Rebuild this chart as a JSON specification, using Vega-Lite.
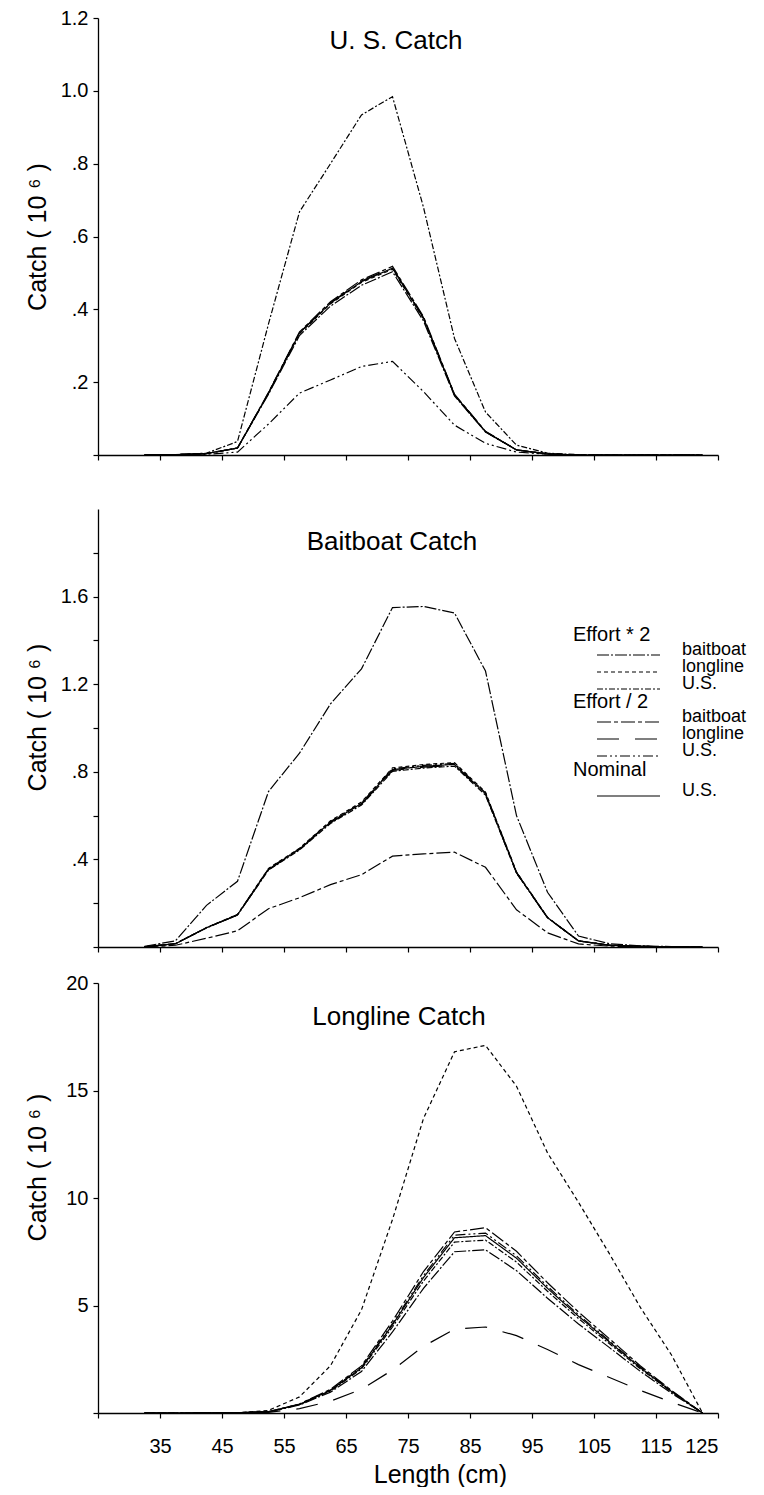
{
"$schema":"https://vega.github.io/schema/vega-lite/v6.json",
"background":"white",
"padding":{"left":25,"top":8,"right":5,"bottom":0},
"config":{
 "font":"Liberation Sans",
 "view":{"stroke":null},
 "axis":{"domainColor":"black","domainWidth":1.3,"tickColor":"black","tickWidth":1.2,"tickSize":5,"labelColor":"black","labelFont":"Liberation Sans","titleFont":"Liberation Sans","titleColor":"black","titleFontWeight":"normal","grid":false,"labelFontSize":20,"titleFontSize":25},
 "title":{"font":"Liberation Sans","fontSize":26,"fontWeight":"normal","color":"black","anchor":"middle","frame":"group","baseline":"top"},
 "legend":{"orient":"none","labelFont":"Liberation Sans","labelFontSize":18,"labelColor":"black","labelBaseline":"alphabetic","titleFont":"Liberation Sans","titleFontSize":20,"titleFontWeight":"normal","titleColor":"black","symbolType":"M-4.5,0H4.5","symbolSize":196,"symbolStrokeColor":"black","symbolStrokeWidth":1.2,"symbolOffset":46.5,"labelOffset":44.5,"rowPadding":-1,"titlePadding":6,"padding":0},
 "line":{"color":"black","strokeWidth":1.2}
},
"datasets":{
"us":[
{"effort":"double","fleet":"baitboat","len":32.5,"catch":0},{"effort":"double","fleet":"baitboat","len":37.5,"catch":0.001},{"effort":"double","fleet":"baitboat","len":42.5,"catch":0.004},{"effort":"double","fleet":"baitboat","len":47.5,"catch":0.019},{"effort":"double","fleet":"baitboat","len":52.5,"catch":0.167},{"effort":"double","fleet":"baitboat","len":57.5,"catch":0.328},{"effort":"double","fleet":"baitboat","len":62.5,"catch":0.409},{"effort":"double","fleet":"baitboat","len":67.5,"catch":0.466},{"effort":"double","fleet":"baitboat","len":72.5,"catch":0.503},{"effort":"double","fleet":"baitboat","len":77.5,"catch":0.368},{"effort":"double","fleet":"baitboat","len":82.5,"catch":0.162},{"effort":"double","fleet":"baitboat","len":87.5,"catch":0.063},{"effort":"double","fleet":"baitboat","len":92.5,"catch":0.014},{"effort":"double","fleet":"baitboat","len":97.5,"catch":0.003},{"effort":"double","fleet":"baitboat","len":102.5,"catch":0},{"effort":"double","fleet":"baitboat","len":107.5,"catch":0},{"effort":"double","fleet":"baitboat","len":112.5,"catch":0},{"effort":"double","fleet":"baitboat","len":117.5,"catch":0},{"effort":"double","fleet":"baitboat","len":122.5,"catch":0},
{"effort":"double","fleet":"longline","len":32.5,"catch":0},{"effort":"double","fleet":"longline","len":37.5,"catch":0.001},{"effort":"double","fleet":"longline","len":42.5,"catch":0.004},{"effort":"double","fleet":"longline","len":47.5,"catch":0.019},{"effort":"double","fleet":"longline","len":52.5,"catch":0.169},{"effort":"double","fleet":"longline","len":57.5,"catch":0.333},{"effort":"double","fleet":"longline","len":62.5,"catch":0.415},{"effort":"double","fleet":"longline","len":67.5,"catch":0.474},{"effort":"double","fleet":"longline","len":72.5,"catch":0.51},{"effort":"double","fleet":"longline","len":77.5,"catch":0.374},{"effort":"double","fleet":"longline","len":82.5,"catch":0.164},{"effort":"double","fleet":"longline","len":87.5,"catch":0.064},{"effort":"double","fleet":"longline","len":92.5,"catch":0.014},{"effort":"double","fleet":"longline","len":97.5,"catch":0.003},{"effort":"double","fleet":"longline","len":102.5,"catch":0},{"effort":"double","fleet":"longline","len":107.5,"catch":0},{"effort":"double","fleet":"longline","len":112.5,"catch":0},{"effort":"double","fleet":"longline","len":117.5,"catch":0},{"effort":"double","fleet":"longline","len":122.5,"catch":0},
{"effort":"double","fleet":"U.S.","len":32.5,"catch":0},{"effort":"double","fleet":"U.S.","len":37.5,"catch":0.001},{"effort":"double","fleet":"U.S.","len":42.5,"catch":0.005},{"effort":"double","fleet":"U.S.","len":47.5,"catch":0.037},{"effort":"double","fleet":"U.S.","len":52.5,"catch":0.36},{"effort":"double","fleet":"U.S.","len":57.5,"catch":0.668},{"effort":"double","fleet":"U.S.","len":62.5,"catch":0.8},{"effort":"double","fleet":"U.S.","len":67.5,"catch":0.934},{"effort":"double","fleet":"U.S.","len":72.5,"catch":0.984},{"effort":"double","fleet":"U.S.","len":77.5,"catch":0.68},{"effort":"double","fleet":"U.S.","len":82.5,"catch":0.32},{"effort":"double","fleet":"U.S.","len":87.5,"catch":0.118},{"effort":"double","fleet":"U.S.","len":92.5,"catch":0.027},{"effort":"double","fleet":"U.S.","len":97.5,"catch":0.005},{"effort":"double","fleet":"U.S.","len":102.5,"catch":0.001},{"effort":"double","fleet":"U.S.","len":107.5,"catch":0},{"effort":"double","fleet":"U.S.","len":112.5,"catch":0},{"effort":"double","fleet":"U.S.","len":117.5,"catch":0},{"effort":"double","fleet":"U.S.","len":122.5,"catch":0},
{"effort":"half","fleet":"baitboat","len":32.5,"catch":0},{"effort":"half","fleet":"baitboat","len":37.5,"catch":0.001},{"effort":"half","fleet":"baitboat","len":42.5,"catch":0.004},{"effort":"half","fleet":"baitboat","len":47.5,"catch":0.019},{"effort":"half","fleet":"baitboat","len":52.5,"catch":0.172},{"effort":"half","fleet":"baitboat","len":57.5,"catch":0.338},{"effort":"half","fleet":"baitboat","len":62.5,"catch":0.421},{"effort":"half","fleet":"baitboat","len":67.5,"catch":0.481},{"effort":"half","fleet":"baitboat","len":72.5,"catch":0.518},{"effort":"half","fleet":"baitboat","len":77.5,"catch":0.38},{"effort":"half","fleet":"baitboat","len":82.5,"catch":0.167},{"effort":"half","fleet":"baitboat","len":87.5,"catch":0.065},{"effort":"half","fleet":"baitboat","len":92.5,"catch":0.014},{"effort":"half","fleet":"baitboat","len":97.5,"catch":0.003},{"effort":"half","fleet":"baitboat","len":102.5,"catch":0},{"effort":"half","fleet":"baitboat","len":107.5,"catch":0},{"effort":"half","fleet":"baitboat","len":112.5,"catch":0},{"effort":"half","fleet":"baitboat","len":117.5,"catch":0},{"effort":"half","fleet":"baitboat","len":122.5,"catch":0},
{"effort":"half","fleet":"longline","len":32.5,"catch":0},{"effort":"half","fleet":"longline","len":37.5,"catch":0.001},{"effort":"half","fleet":"longline","len":42.5,"catch":0.004},{"effort":"half","fleet":"longline","len":47.5,"catch":0.019},{"effort":"half","fleet":"longline","len":52.5,"catch":0.171},{"effort":"half","fleet":"longline","len":57.5,"catch":0.336},{"effort":"half","fleet":"longline","len":62.5,"catch":0.418},{"effort":"half","fleet":"longline","len":67.5,"catch":0.478},{"effort":"half","fleet":"longline","len":72.5,"catch":0.515},{"effort":"half","fleet":"longline","len":77.5,"catch":0.377},{"effort":"half","fleet":"longline","len":82.5,"catch":0.166},{"effort":"half","fleet":"longline","len":87.5,"catch":0.064},{"effort":"half","fleet":"longline","len":92.5,"catch":0.014},{"effort":"half","fleet":"longline","len":97.5,"catch":0.003},{"effort":"half","fleet":"longline","len":102.5,"catch":0},{"effort":"half","fleet":"longline","len":107.5,"catch":0},{"effort":"half","fleet":"longline","len":112.5,"catch":0},{"effort":"half","fleet":"longline","len":117.5,"catch":0},{"effort":"half","fleet":"longline","len":122.5,"catch":0},
{"effort":"half","fleet":"U.S.","len":32.5,"catch":0},{"effort":"half","fleet":"U.S.","len":37.5,"catch":0},{"effort":"half","fleet":"U.S.","len":42.5,"catch":0.002},{"effort":"half","fleet":"U.S.","len":47.5,"catch":0.008},{"effort":"half","fleet":"U.S.","len":52.5,"catch":0.085},{"effort":"half","fleet":"U.S.","len":57.5,"catch":0.17},{"effort":"half","fleet":"U.S.","len":62.5,"catch":0.206},{"effort":"half","fleet":"U.S.","len":67.5,"catch":0.243},{"effort":"half","fleet":"U.S.","len":72.5,"catch":0.257},{"effort":"half","fleet":"U.S.","len":77.5,"catch":0.174},{"effort":"half","fleet":"U.S.","len":82.5,"catch":0.082},{"effort":"half","fleet":"U.S.","len":87.5,"catch":0.032},{"effort":"half","fleet":"U.S.","len":92.5,"catch":0.008},{"effort":"half","fleet":"U.S.","len":97.5,"catch":0.002},{"effort":"half","fleet":"U.S.","len":102.5,"catch":0},{"effort":"half","fleet":"U.S.","len":107.5,"catch":0},{"effort":"half","fleet":"U.S.","len":112.5,"catch":0},{"effort":"half","fleet":"U.S.","len":117.5,"catch":0},{"effort":"half","fleet":"U.S.","len":122.5,"catch":0},
{"effort":"nominal","fleet":"U.S.","len":32.5,"catch":0},{"effort":"nominal","fleet":"U.S.","len":37.5,"catch":0.001},{"effort":"nominal","fleet":"U.S.","len":42.5,"catch":0.004},{"effort":"nominal","fleet":"U.S.","len":47.5,"catch":0.019},{"effort":"nominal","fleet":"U.S.","len":52.5,"catch":0.17},{"effort":"nominal","fleet":"U.S.","len":57.5,"catch":0.335},{"effort":"nominal","fleet":"U.S.","len":62.5,"catch":0.417},{"effort":"nominal","fleet":"U.S.","len":67.5,"catch":0.476},{"effort":"nominal","fleet":"U.S.","len":72.5,"catch":0.513},{"effort":"nominal","fleet":"U.S.","len":77.5,"catch":0.376},{"effort":"nominal","fleet":"U.S.","len":82.5,"catch":0.165},{"effort":"nominal","fleet":"U.S.","len":87.5,"catch":0.064},{"effort":"nominal","fleet":"U.S.","len":92.5,"catch":0.014},{"effort":"nominal","fleet":"U.S.","len":97.5,"catch":0.003},{"effort":"nominal","fleet":"U.S.","len":102.5,"catch":0},{"effort":"nominal","fleet":"U.S.","len":107.5,"catch":0},{"effort":"nominal","fleet":"U.S.","len":112.5,"catch":0},{"effort":"nominal","fleet":"U.S.","len":117.5,"catch":0},{"effort":"nominal","fleet":"U.S.","len":122.5,"catch":0}
],
"bb":[
{"effort":"double","fleet":"baitboat","len":32.5,"catch":0.003},{"effort":"double","fleet":"baitboat","len":37.5,"catch":0.028},{"effort":"double","fleet":"baitboat","len":42.5,"catch":0.19},{"effort":"double","fleet":"baitboat","len":47.5,"catch":0.3},{"effort":"double","fleet":"baitboat","len":52.5,"catch":0.71},{"effort":"double","fleet":"baitboat","len":57.5,"catch":0.885},{"effort":"double","fleet":"baitboat","len":62.5,"catch":1.11},{"effort":"double","fleet":"baitboat","len":67.5,"catch":1.27},{"effort":"double","fleet":"baitboat","len":72.5,"catch":1.55},{"effort":"double","fleet":"baitboat","len":77.5,"catch":1.555},{"effort":"double","fleet":"baitboat","len":82.5,"catch":1.525},{"effort":"double","fleet":"baitboat","len":87.5,"catch":1.26},{"effort":"double","fleet":"baitboat","len":92.5,"catch":0.6},{"effort":"double","fleet":"baitboat","len":97.5,"catch":0.25},{"effort":"double","fleet":"baitboat","len":102.5,"catch":0.05},{"effort":"double","fleet":"baitboat","len":107.5,"catch":0.015},{"effort":"double","fleet":"baitboat","len":112.5,"catch":0.005},{"effort":"double","fleet":"baitboat","len":117.5,"catch":0.002},{"effort":"double","fleet":"baitboat","len":122.5,"catch":0},
{"effort":"double","fleet":"longline","len":32.5,"catch":0.001},{"effort":"double","fleet":"longline","len":37.5,"catch":0.015},{"effort":"double","fleet":"longline","len":42.5,"catch":0.089},{"effort":"double","fleet":"longline","len":47.5,"catch":0.148},{"effort":"double","fleet":"longline","len":52.5,"catch":0.359},{"effort":"double","fleet":"longline","len":57.5,"catch":0.451},{"effort":"double","fleet":"longline","len":62.5,"catch":0.576},{"effort":"double","fleet":"longline","len":67.5,"catch":0.662},{"effort":"double","fleet":"longline","len":72.5,"catch":0.818},{"effort":"double","fleet":"longline","len":77.5,"catch":0.833},{"effort":"double","fleet":"longline","len":82.5,"catch":0.842},{"effort":"double","fleet":"longline","len":87.5,"catch":0.707},{"effort":"double","fleet":"longline","len":92.5,"catch":0.343},{"effort":"double","fleet":"longline","len":97.5,"catch":0.135},{"effort":"double","fleet":"longline","len":102.5,"catch":0.028},{"effort":"double","fleet":"longline","len":107.5,"catch":0.008},{"effort":"double","fleet":"longline","len":112.5,"catch":0.003},{"effort":"double","fleet":"longline","len":117.5,"catch":0.001},{"effort":"double","fleet":"longline","len":122.5,"catch":0},
{"effort":"double","fleet":"U.S.","len":32.5,"catch":0.001},{"effort":"double","fleet":"U.S.","len":37.5,"catch":0.015},{"effort":"double","fleet":"U.S.","len":42.5,"catch":0.087},{"effort":"double","fleet":"U.S.","len":47.5,"catch":0.146},{"effort":"double","fleet":"U.S.","len":52.5,"catch":0.351},{"effort":"double","fleet":"U.S.","len":57.5,"catch":0.443},{"effort":"double","fleet":"U.S.","len":62.5,"catch":0.564},{"effort":"double","fleet":"U.S.","len":67.5,"catch":0.648},{"effort":"double","fleet":"U.S.","len":72.5,"catch":0.802},{"effort":"double","fleet":"U.S.","len":77.5,"catch":0.817},{"effort":"double","fleet":"U.S.","len":82.5,"catch":0.826},{"effort":"double","fleet":"U.S.","len":87.5,"catch":0.693},{"effort":"double","fleet":"U.S.","len":92.5,"catch":0.337},{"effort":"double","fleet":"U.S.","len":97.5,"catch":0.133},{"effort":"double","fleet":"U.S.","len":102.5,"catch":0.028},{"effort":"double","fleet":"U.S.","len":107.5,"catch":0.008},{"effort":"double","fleet":"U.S.","len":112.5,"catch":0.003},{"effort":"double","fleet":"U.S.","len":117.5,"catch":0.001},{"effort":"double","fleet":"U.S.","len":122.5,"catch":0},
{"effort":"half","fleet":"baitboat","len":32.5,"catch":0},{"effort":"half","fleet":"baitboat","len":37.5,"catch":0.008},{"effort":"half","fleet":"baitboat","len":42.5,"catch":0.04},{"effort":"half","fleet":"baitboat","len":47.5,"catch":0.074},{"effort":"half","fleet":"baitboat","len":52.5,"catch":0.175},{"effort":"half","fleet":"baitboat","len":57.5,"catch":0.225},{"effort":"half","fleet":"baitboat","len":62.5,"catch":0.285},{"effort":"half","fleet":"baitboat","len":67.5,"catch":0.33},{"effort":"half","fleet":"baitboat","len":72.5,"catch":0.415},{"effort":"half","fleet":"baitboat","len":77.5,"catch":0.425},{"effort":"half","fleet":"baitboat","len":82.5,"catch":0.433},{"effort":"half","fleet":"baitboat","len":87.5,"catch":0.364},{"effort":"half","fleet":"baitboat","len":92.5,"catch":0.17},{"effort":"half","fleet":"baitboat","len":97.5,"catch":0.065},{"effort":"half","fleet":"baitboat","len":102.5,"catch":0.014},{"effort":"half","fleet":"baitboat","len":107.5,"catch":0.004},{"effort":"half","fleet":"baitboat","len":112.5,"catch":0.001},{"effort":"half","fleet":"baitboat","len":117.5,"catch":0},{"effort":"half","fleet":"baitboat","len":122.5,"catch":0},
{"effort":"half","fleet":"longline","len":32.5,"catch":0.001},{"effort":"half","fleet":"longline","len":37.5,"catch":0.015},{"effort":"half","fleet":"longline","len":42.5,"catch":0.088},{"effort":"half","fleet":"longline","len":47.5,"catch":0.146},{"effort":"half","fleet":"longline","len":52.5,"catch":0.353},{"effort":"half","fleet":"longline","len":57.5,"catch":0.445},{"effort":"half","fleet":"longline","len":62.5,"catch":0.567},{"effort":"half","fleet":"longline","len":67.5,"catch":0.652},{"effort":"half","fleet":"longline","len":72.5,"catch":0.806},{"effort":"half","fleet":"longline","len":77.5,"catch":0.821},{"effort":"half","fleet":"longline","len":82.5,"catch":0.83},{"effort":"half","fleet":"longline","len":87.5,"catch":0.697},{"effort":"half","fleet":"longline","len":92.5,"catch":0.338},{"effort":"half","fleet":"longline","len":97.5,"catch":0.133},{"effort":"half","fleet":"longline","len":102.5,"catch":0.028},{"effort":"half","fleet":"longline","len":107.5,"catch":0.008},{"effort":"half","fleet":"longline","len":112.5,"catch":0.003},{"effort":"half","fleet":"longline","len":117.5,"catch":0.001},{"effort":"half","fleet":"longline","len":122.5,"catch":0},
{"effort":"half","fleet":"U.S.","len":32.5,"catch":0.001},{"effort":"half","fleet":"U.S.","len":37.5,"catch":0.015},{"effort":"half","fleet":"U.S.","len":42.5,"catch":0.088},{"effort":"half","fleet":"U.S.","len":47.5,"catch":0.148},{"effort":"half","fleet":"U.S.","len":52.5,"catch":0.357},{"effort":"half","fleet":"U.S.","len":57.5,"catch":0.449},{"effort":"half","fleet":"U.S.","len":62.5,"catch":0.573},{"effort":"half","fleet":"U.S.","len":67.5,"catch":0.658},{"effort":"half","fleet":"U.S.","len":72.5,"catch":0.814},{"effort":"half","fleet":"U.S.","len":77.5,"catch":0.829},{"effort":"half","fleet":"U.S.","len":82.5,"catch":0.838},{"effort":"half","fleet":"U.S.","len":87.5,"catch":0.704},{"effort":"half","fleet":"U.S.","len":92.5,"catch":0.342},{"effort":"half","fleet":"U.S.","len":97.5,"catch":0.135},{"effort":"half","fleet":"U.S.","len":102.5,"catch":0.028},{"effort":"half","fleet":"U.S.","len":107.5,"catch":0.008},{"effort":"half","fleet":"U.S.","len":112.5,"catch":0.003},{"effort":"half","fleet":"U.S.","len":117.5,"catch":0.001},{"effort":"half","fleet":"U.S.","len":122.5,"catch":0},
{"effort":"nominal","fleet":"U.S.","len":32.5,"catch":0.001},{"effort":"nominal","fleet":"U.S.","len":37.5,"catch":0.015},{"effort":"nominal","fleet":"U.S.","len":42.5,"catch":0.088},{"effort":"nominal","fleet":"U.S.","len":47.5,"catch":0.147},{"effort":"nominal","fleet":"U.S.","len":52.5,"catch":0.355},{"effort":"nominal","fleet":"U.S.","len":57.5,"catch":0.447},{"effort":"nominal","fleet":"U.S.","len":62.5,"catch":0.57},{"effort":"nominal","fleet":"U.S.","len":67.5,"catch":0.655},{"effort":"nominal","fleet":"U.S.","len":72.5,"catch":0.81},{"effort":"nominal","fleet":"U.S.","len":77.5,"catch":0.825},{"effort":"nominal","fleet":"U.S.","len":82.5,"catch":0.834},{"effort":"nominal","fleet":"U.S.","len":87.5,"catch":0.7},{"effort":"nominal","fleet":"U.S.","len":92.5,"catch":0.34},{"effort":"nominal","fleet":"U.S.","len":97.5,"catch":0.134},{"effort":"nominal","fleet":"U.S.","len":102.5,"catch":0.028},{"effort":"nominal","fleet":"U.S.","len":107.5,"catch":0.008},{"effort":"nominal","fleet":"U.S.","len":112.5,"catch":0.003},{"effort":"nominal","fleet":"U.S.","len":117.5,"catch":0.001},{"effort":"nominal","fleet":"U.S.","len":122.5,"catch":0}
],
"ll":[
{"effort":"double","fleet":"baitboat","len":32.5,"catch":0},{"effort":"double","fleet":"baitboat","len":37.5,"catch":0},{"effort":"double","fleet":"baitboat","len":42.5,"catch":0.002},{"effort":"double","fleet":"baitboat","len":47.5,"catch":0.009},{"effort":"double","fleet":"baitboat","len":52.5,"catch":0.055},{"effort":"double","fleet":"baitboat","len":57.5,"catch":0.37},{"effort":"double","fleet":"baitboat","len":62.5,"catch":0.97},{"effort":"double","fleet":"baitboat","len":67.5,"catch":1.93},{"effort":"double","fleet":"baitboat","len":72.5,"catch":3.77},{"effort":"double","fleet":"baitboat","len":77.5,"catch":5.8},{"effort":"double","fleet":"baitboat","len":82.5,"catch":7.5},{"effort":"double","fleet":"baitboat","len":87.5,"catch":7.59},{"effort":"double","fleet":"baitboat","len":92.5,"catch":6.62},{"effort":"double","fleet":"baitboat","len":97.5,"catch":5.34},{"effort":"double","fleet":"baitboat","len":102.5,"catch":4.14},{"effort":"double","fleet":"baitboat","len":107.5,"catch":3.04},{"effort":"double","fleet":"baitboat","len":112.5,"catch":1.93},{"effort":"double","fleet":"baitboat","len":117.5,"catch":0.92},{"effort":"double","fleet":"baitboat","len":122.5,"catch":0},
{"effort":"double","fleet":"longline","len":32.5,"catch":0},{"effort":"double","fleet":"longline","len":37.5,"catch":0},{"effort":"double","fleet":"longline","len":42.5,"catch":0.002},{"effort":"double","fleet":"longline","len":47.5,"catch":0.01},{"effort":"double","fleet":"longline","len":52.5,"catch":0.12},{"effort":"double","fleet":"longline","len":57.5,"catch":0.75},{"effort":"double","fleet":"longline","len":62.5,"catch":2.2},{"effort":"double","fleet":"longline","len":67.5,"catch":4.8},{"effort":"double","fleet":"longline","len":72.5,"catch":9.0},{"effort":"double","fleet":"longline","len":77.5,"catch":13.7},{"effort":"double","fleet":"longline","len":82.5,"catch":16.8},{"effort":"double","fleet":"longline","len":87.5,"catch":17.1},{"effort":"double","fleet":"longline","len":92.5,"catch":15.2},{"effort":"double","fleet":"longline","len":97.5,"catch":12.1},{"effort":"double","fleet":"longline","len":102.5,"catch":9.8},{"effort":"double","fleet":"longline","len":107.5,"catch":7.4},{"effort":"double","fleet":"longline","len":112.5,"catch":4.9},{"effort":"double","fleet":"longline","len":117.5,"catch":2.7},{"effort":"double","fleet":"longline","len":122.5,"catch":0},
{"effort":"double","fleet":"U.S.","len":32.5,"catch":0},{"effort":"double","fleet":"U.S.","len":37.5,"catch":0},{"effort":"double","fleet":"U.S.","len":42.5,"catch":0.002},{"effort":"double","fleet":"U.S.","len":47.5,"catch":0.01},{"effort":"double","fleet":"U.S.","len":52.5,"catch":0.058},{"effort":"double","fleet":"U.S.","len":57.5,"catch":0.39},{"effort":"double","fleet":"U.S.","len":62.5,"catch":1.02},{"effort":"double","fleet":"U.S.","len":67.5,"catch":2.05},{"effort":"double","fleet":"U.S.","len":72.5,"catch":4.0},{"effort":"double","fleet":"U.S.","len":77.5,"catch":6.14},{"effort":"double","fleet":"U.S.","len":82.5,"catch":7.95},{"effort":"double","fleet":"U.S.","len":87.5,"catch":8.04},{"effort":"double","fleet":"U.S.","len":92.5,"catch":7.02},{"effort":"double","fleet":"U.S.","len":97.5,"catch":5.66},{"effort":"double","fleet":"U.S.","len":102.5,"catch":4.39},{"effort":"double","fleet":"U.S.","len":107.5,"catch":3.22},{"effort":"double","fleet":"U.S.","len":112.5,"catch":2.05},{"effort":"double","fleet":"U.S.","len":117.5,"catch":0.98},{"effort":"double","fleet":"U.S.","len":122.5,"catch":0},
{"effort":"half","fleet":"baitboat","len":32.5,"catch":0},{"effort":"half","fleet":"baitboat","len":37.5,"catch":0},{"effort":"half","fleet":"baitboat","len":42.5,"catch":0.002},{"effort":"half","fleet":"baitboat","len":47.5,"catch":0.01},{"effort":"half","fleet":"baitboat","len":52.5,"catch":0.063},{"effort":"half","fleet":"baitboat","len":57.5,"catch":0.42},{"effort":"half","fleet":"baitboat","len":62.5,"catch":1.1},{"effort":"half","fleet":"baitboat","len":67.5,"catch":2.19},{"effort":"half","fleet":"baitboat","len":72.5,"catch":4.28},{"effort":"half","fleet":"baitboat","len":77.5,"catch":6.58},{"effort":"half","fleet":"baitboat","len":82.5,"catch":8.42},{"effort":"half","fleet":"baitboat","len":87.5,"catch":8.62},{"effort":"half","fleet":"baitboat","len":92.5,"catch":7.52},{"effort":"half","fleet":"baitboat","len":97.5,"catch":6.06},{"effort":"half","fleet":"baitboat","len":102.5,"catch":4.7},{"effort":"half","fleet":"baitboat","len":107.5,"catch":3.45},{"effort":"half","fleet":"baitboat","len":112.5,"catch":2.19},{"effort":"half","fleet":"baitboat","len":117.5,"catch":1.05},{"effort":"half","fleet":"baitboat","len":122.5,"catch":0},
{"effort":"half","fleet":"longline","len":32.5,"catch":0},{"effort":"half","fleet":"longline","len":37.5,"catch":0},{"effort":"half","fleet":"longline","len":42.5,"catch":0},{"effort":"half","fleet":"longline","len":47.5,"catch":0.005},{"effort":"half","fleet":"longline","len":52.5,"catch":0.03},{"effort":"half","fleet":"longline","len":57.5,"catch":0.2},{"effort":"half","fleet":"longline","len":62.5,"catch":0.55},{"effort":"half","fleet":"longline","len":67.5,"catch":1.1},{"effort":"half","fleet":"longline","len":72.5,"catch":2.0},{"effort":"half","fleet":"longline","len":77.5,"catch":3.1},{"effort":"half","fleet":"longline","len":82.5,"catch":3.9},{"effort":"half","fleet":"longline","len":87.5,"catch":4.0},{"effort":"half","fleet":"longline","len":92.5,"catch":3.6},{"effort":"half","fleet":"longline","len":97.5,"catch":2.95},{"effort":"half","fleet":"longline","len":102.5,"catch":2.25},{"effort":"half","fleet":"longline","len":107.5,"catch":1.65},{"effort":"half","fleet":"longline","len":112.5,"catch":1.05},{"effort":"half","fleet":"longline","len":117.5,"catch":0.5},{"effort":"half","fleet":"longline","len":122.5,"catch":0},
{"effort":"half","fleet":"U.S.","len":32.5,"catch":0},{"effort":"half","fleet":"U.S.","len":37.5,"catch":0},{"effort":"half","fleet":"U.S.","len":42.5,"catch":0.002},{"effort":"half","fleet":"U.S.","len":47.5,"catch":0.01},{"effort":"half","fleet":"U.S.","len":52.5,"catch":0.061},{"effort":"half","fleet":"U.S.","len":57.5,"catch":0.41},{"effort":"half","fleet":"U.S.","len":62.5,"catch":1.07},{"effort":"half","fleet":"U.S.","len":67.5,"catch":2.13},{"effort":"half","fleet":"U.S.","len":72.5,"catch":4.16},{"effort":"half","fleet":"U.S.","len":77.5,"catch":6.39},{"effort":"half","fleet":"U.S.","len":82.5,"catch":8.27},{"effort":"half","fleet":"U.S.","len":87.5,"catch":8.37},{"effort":"half","fleet":"U.S.","len":92.5,"catch":7.31},{"effort":"half","fleet":"U.S.","len":97.5,"catch":5.89},{"effort":"half","fleet":"U.S.","len":102.5,"catch":4.57},{"effort":"half","fleet":"U.S.","len":107.5,"catch":3.35},{"effort":"half","fleet":"U.S.","len":112.5,"catch":2.13},{"effort":"half","fleet":"U.S.","len":117.5,"catch":1.02},{"effort":"half","fleet":"U.S.","len":122.5,"catch":0},
{"effort":"nominal","fleet":"U.S.","len":32.5,"catch":0},{"effort":"nominal","fleet":"U.S.","len":37.5,"catch":0},{"effort":"nominal","fleet":"U.S.","len":42.5,"catch":0.002},{"effort":"nominal","fleet":"U.S.","len":47.5,"catch":0.01},{"effort":"nominal","fleet":"U.S.","len":52.5,"catch":0.06},{"effort":"nominal","fleet":"U.S.","len":57.5,"catch":0.4},{"effort":"nominal","fleet":"U.S.","len":62.5,"catch":1.05},{"effort":"nominal","fleet":"U.S.","len":67.5,"catch":2.1},{"effort":"nominal","fleet":"U.S.","len":72.5,"catch":4.1},{"effort":"nominal","fleet":"U.S.","len":77.5,"catch":6.3},{"effort":"nominal","fleet":"U.S.","len":82.5,"catch":8.15},{"effort":"nominal","fleet":"U.S.","len":87.5,"catch":8.25},{"effort":"nominal","fleet":"U.S.","len":92.5,"catch":7.2},{"effort":"nominal","fleet":"U.S.","len":97.5,"catch":5.8},{"effort":"nominal","fleet":"U.S.","len":102.5,"catch":4.5},{"effort":"nominal","fleet":"U.S.","len":107.5,"catch":3.3},{"effort":"nominal","fleet":"U.S.","len":112.5,"catch":2.1},{"effort":"nominal","fleet":"U.S.","len":117.5,"catch":1.0},{"effort":"nominal","fleet":"U.S.","len":122.5,"catch":0}
]
},
"spacing":48,
"vconcat":[
{
 "width":620,"height":437,
 "title":{"text":"U. S. Catch","offset":-46,"dx":-12},
 "data":{"name":"us"},
 "encoding":{
  "x":{"field":"len","type":"quantitative","scale":{"domain":[25,125],"nice":false},"axis":{"values":[25,35,45,55,65,75,85,95,105,115,125],"labels":false,"title":null}},
  "y":{"field":"catch","type":"quantitative","scale":{"domain":[0,1.2],"nice":false},"axis":{"values":[0,0.2,0.4,0.6,0.8,1.0,1.2],"labelExpr":"datum.value == 0 ? '' : (datum.value >= 1 ? format(datum.value, '.1f') : replace(format(datum.value, '.1f'), '0.', '.'))","title":"Catch ( 10 ⁶ )","minExtent":39,"maxExtent":39,"titlePadding":9,"labelPadding":5}}
 },
 "layer":[
  {"transform":[{"filter":"datum.effort === 'double'"}],"mark":{"type":"line"},"encoding":{"strokeDash":{"field":"fleet","type":"nominal","scale":{"domain":["baitboat","longline","U.S."],"range":[[12,2,2,2],[4,3],[6,2,2,2]]},"legend":null}}},
  {"transform":[{"filter":"datum.effort === 'half'"}],"mark":{"type":"line"},"encoding":{"strokeDash":{"field":"fleet","type":"nominal","scale":{"domain":["baitboat","longline","U.S."],"range":[[14,3,4,3],[22,16],[10,3,2,3,2,3]]},"legend":null}}},
  {"transform":[{"filter":"datum.effort === 'nominal'"}],"mark":{"type":"line"},"encoding":{"strokeDash":{"field":"fleet","type":"nominal","scale":{"domain":["U.S."],"range":[[1,0]]},"legend":null}}}
 ],
 "resolve":{"scale":{"strokeDash":"independent"}}
},
{
 "spacing":20,
 "vconcat":[
 {
  "width":620,"height":438,
  "title":{"text":"Baitboat Catch","offset":-46,"dx":-16},
  "data":{"name":"bb"},
  "encoding":{
   "x":{"field":"len","type":"quantitative","scale":{"domain":[25,125],"nice":false},"axis":{"values":[25,35,45,55,65,75,85,95,105,115,125],"labels":false,"title":null}},
   "y":{"field":"catch","type":"quantitative","scale":{"domain":[0,2],"nice":false},"axis":{"values":[0,0.2,0.4,0.6,0.8,1.0,1.2,1.4,1.6,1.8],"labelExpr":"(round(datum.value*10) % 4 == 0 && datum.value > 0) ? (datum.value >= 1 ? format(datum.value, '.1f') : replace(format(datum.value, '.1f'), '0.', '.')) : ''","title":"Catch ( 10 ⁶ )","titleY":208,"minExtent":39,"maxExtent":39,"titlePadding":9,"labelPadding":5}}
  },
  "layer":[
   {"transform":[{"filter":"datum.effort === 'double'"}],"mark":{"type":"line"},"encoding":{"strokeDash":{"field":"fleet","type":"nominal","scale":{"domain":["baitboat","longline","U.S."],"range":[[12,2,2,2],[4,3],[6,2,2,2]]},"legend":{"title":"Effort * 2","legendX":475,"legendY":116,"titlePadding":1}}}},
   {"transform":[{"filter":"datum.effort === 'half'"}],"mark":{"type":"line"},"encoding":{"strokeDash":{"field":"fleet","type":"nominal","scale":{"domain":["baitboat","longline","U.S."],"range":[[14,3,4,3],[22,16],[10,3,2,3,2,3]]},"legend":{"title":"Effort / 2","legendX":475,"legendY":183,"titlePadding":1}}}},
   {"transform":[{"filter":"datum.effort === 'nominal'"}],"mark":{"type":"line"},"encoding":{"strokeDash":{"field":"fleet","type":"nominal","scale":{"domain":["U.S."],"range":[[1,0]]},"legend":{"title":"Nominal","legendX":475,"legendY":251,"titlePadding":7}}}}
  ],
  "resolve":{"scale":{"strokeDash":"independent"}}
 },
 {
  "width":620,"height":430,
  "title":{"text":"Longline Catch","offset":-57,"dx":-9},
  "data":{"name":"ll"},
  "encoding":{
   "x":{"field":"len","type":"quantitative","scale":{"domain":[25,125],"nice":false},"axis":{"values":[25,35,45,55,65,75,85,95,105,115,125],"labelExpr":"datum.value == 25 ? '' : datum.label","labelPadding":18,"title":"Length (cm)","titleX":342,"titlePadding":6}},
   "y":{"field":"catch","type":"quantitative","scale":{"domain":[0,20],"nice":false},"axis":{"values":[0,5,10,15,20],"labelExpr":"datum.value == 0 ? '' : datum.label","title":"Catch ( 10 ⁶ )","titleY":184,"minExtent":39,"maxExtent":39,"titlePadding":9,"labelPadding":5}}
  },
  "layer":[
   {"transform":[{"filter":"datum.effort === 'double'"}],"mark":{"type":"line"},"encoding":{"strokeDash":{"field":"fleet","type":"nominal","scale":{"domain":["baitboat","longline","U.S."],"range":[[12,2,2,2],[4,3],[6,2,2,2]]},"legend":null}}},
   {"transform":[{"filter":"datum.effort === 'half'"}],"mark":{"type":"line"},"encoding":{"strokeDash":{"field":"fleet","type":"nominal","scale":{"domain":["baitboat","longline","U.S."],"range":[[14,3,4,3],[22,16],[10,3,2,3,2,3]]},"legend":null}}},
   {"transform":[{"filter":"datum.effort === 'nominal'"}],"mark":{"type":"line"},"encoding":{"strokeDash":{"field":"fleet","type":"nominal","scale":{"domain":["U.S."],"range":[[1,0]]},"legend":null}}}
  ],
  "resolve":{"scale":{"strokeDash":"independent"}}
 }
 ]
}
]
}
